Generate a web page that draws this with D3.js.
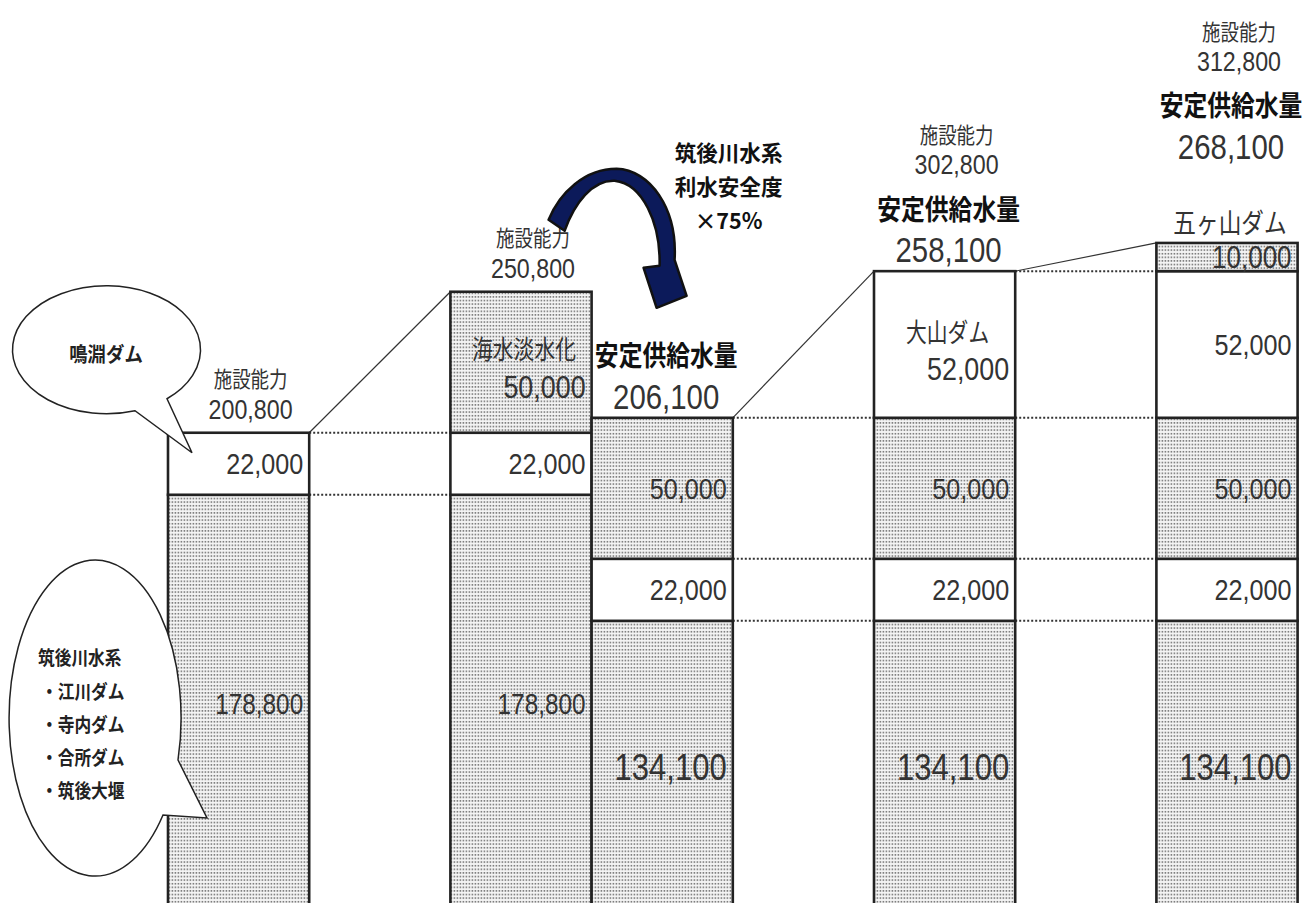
<!DOCTYPE html>
<html><head><meta charset="utf-8">
<script src="https://cdn.jsdelivr.net/npm/d3@7"></script>
<style>body{margin:0;background:#fff}svg{display:block;background:#fff}</style>
</head><body><svg id="chart" width="1303" height="903"></svg>
<script>
// ---------------- data ----------------
const stages     = ["現況", "海水淡水化", "利水安全度考慮", "大山ダム", "五ヶ山ダム"];
const seriesKeys = ["筑後川水系", "鳴淵ダム", "海水淡水化", "大山ダム", "五ヶ山ダム"];
const chikugo    = [178800, 178800, 134100, 134100, 134100];
const narufuchi  = [22000, 22000, 22000, 22000, 22000];
const desal      = [0, 50000, 50000, 50000, 50000];
const oyama      = [0, 0, 0, 52000, 52000];
const gokayama   = [0, 0, 0, 0, 10000];
const capacity   = [200800, 250800, null, 302800, 312800];
const supply     = [null, null, 206100, 258100, 268100];
const capTitle    = "施設能力";
const supplyTitle = "安定供給水量";
const bubble1Lines = ["鳴淵ダム"];
const bubble2Lines = ["筑後川水系", "・江川ダム", "・寺内ダム", "・合所ダム", "・筑後大堰"];
const noteLines    = ["筑後川水系", "利水安全度", "×75%"];

// ---------------- layout ----------------
const W = 1303, H = 903;
const LAT = "'Liberation Sans', Arial, sans-serif";
const JP  = "'Noto Sans CJK JP', 'Noto Sans CJK SC', sans-serif";
const NSX = 0.84;   // horizontal condensing of numerals
const svg = d3.select("#chart");
const defs = svg.append("defs");
const pat = defs.append("pattern").attr("id", "dots")
  .attr("patternUnits", "userSpaceOnUse").attr("width", 3).attr("height", 3.6);
pat.append("rect").attr("width", 3).attr("height", 3.6).attr("fill", "#f4f4f4");
pat.append("rect").attr("x", 0.6).attr("y", 0.9).attr("width", 1.6).attr("height", 1.6).attr("fill", "#7a7a7a");

const slot = [0, 2, 3, 5, 7];               // column slots (gaps between stages)
const x = d3.scaleLinear().domain([0, 8]).range([168, 168 + 8 * 141.2]);
const bw = x(1) - x(0);
const y = d3.scaleLinear().domain([0, 300000]).range([999, 153]);

const seriesValues = [chikugo, narufuchi, desal, oyama, gokayama];
const table = stages.map((s, i) => {
  const o = { stage: s };
  seriesKeys.forEach((k, j) => o[k] = seriesValues[j][i]);
  return o;
});
const stacked = d3.stack().keys(seriesKeys)(table);
const dottedSeries = new Set(["筑後川水系", "海水淡水化", "五ヶ山ダム"]);
const fmt = d3.format(",");

const segs = [];
stacked.forEach((layer, j) => layer.forEach((d, i) => {
  if (d[1] > d[0]) segs.push({ j, i, key: seriesKeys[j], lo: d[0], hi: d[1], v: d[1] - d[0] });
}));
const tops = stages.map((s, i) => d3.max(segs.filter(s => s.i === i), s => s.hi));
const firstStage = seriesValues.map(arr => arr.findIndex(v => v > 0));

function txt(g, px, py, s, o) {
  return g.append("text")
    .attr("transform", `translate(${px},${py}) scale(${o.sx || 1},1)`)
    .attr("text-anchor", o.anchor || "middle")
    .attr("dominant-baseline", "central")
    .attr("font-family", o.family || JP)
    .attr("font-size", o.size)
    .attr("font-weight", o.weight || 400)
    .attr("fill", o.fill || "#333")
    .text(s);
}

// connectors between separated columns
const gConn = svg.append("g");
for (let i = 0; i < stages.length - 1; i++) {
  if (slot[i + 1] - slot[i] < 2) continue;
  const xr = x(slot[i]) + bw, xl = x(slot[i + 1]);
  const bA = new Set(segs.filter(s => s.i === i).map(s => s.hi));
  const bB = new Set(segs.filter(s => s.i === i + 1).map(s => s.hi));
  bA.forEach(v => {
    if (bB.has(v)) gConn.append("line").attr("x1", xr).attr("x2", xl).attr("y1", y(v)).attr("y2", y(v))
      .attr("stroke", "#333").attr("stroke-width", 2).attr("stroke-dasharray", "2,2");
  });
  if (tops[i + 1] > tops[i]) {
    gConn.append("line").attr("x1", xr).attr("y1", y(tops[i])).attr("x2", xl).attr("y2", y(tops[i + 1]))
      .attr("stroke", "#333").attr("stroke-width", 1.2);
  }
}

// bars
const gBars = svg.append("g");
gBars.selectAll("rect").data(segs).join("rect")
  .attr("x", d => x(slot[d.i]))
  .attr("y", d => y(d.hi))
  .attr("width", bw)
  .attr("height", d => y(d.lo) - y(d.hi))
  .attr("fill", d => dottedSeries.has(d.key) ? "url(#dots)" : "#fff")
  .attr("stroke", "#222").attr("stroke-width", 2.6);

// segment labels
const gLab = svg.append("g");
const outsideName = stages.map(() => false);
segs.forEach(d => {
  const xr = x(slot[d.i]) + bw - 6;
  const xc = x(slot[d.i]) + bw / 2 + 3;
  const yt = y(d.hi), yb = Math.min(y(d.lo), H);
  const h = yb - yt;
  const named = d.j >= 2 && d.i === firstStage[d.j];
  if (d.lo === 0) {
    const cy = (yt + yb) / 2 + 5;
    txt(gLab, xr, cy, fmt(d.v), { family: LAT, size: supply[d.i] != null ? 37 : 29, anchor: "end", sx: NSX });
  } else if (named && h >= 50) {
    const cy = (yt + yb) / 2;
    txt(gLab, xc, cy - 14, d.key, { size: 26, sx: 0.8 });
    txt(gLab, xr, cy + 24, fmt(d.v), { family: LAT, size: 32, anchor: "end", sx: NSX });
  } else if (named) {
    txt(gLab, xc, yt - 22, d.key, { size: 27, sx: 0.84 });
    txt(gLab, xr, (yt + yb) / 2, fmt(d.v), { family: LAT, size: 31, anchor: "end", sx: NSX });
    outsideName[d.i] = true;
  } else {
    txt(gLab, xr, (yt + yb) / 2, fmt(d.v), { family: LAT, size: 30, anchor: "end", sx: NSX });
  }
});

// column headers
stages.forEach((s, i) => {
  const base = y(tops[i]) - (outsideName[i] ? 75 : 0);
  const xc = x(slot[i]) + bw / 2;
  if (supply[i] != null) {
    txt(gLab, xc + 4, base - 21, fmt(supply[i]), { family: LAT, size: 35, sx: 0.84 });
    txt(gLab, xc + 4, base - 64, supplyTitle, { size: 28, weight: 700, sx: 0.85, fill: "#111" });
  }
  if (capacity[i] != null) {
    const cy = supply[i] != null ? base - 107 : base - 24;
    txt(gLab, xc + 12, cy, fmt(capacity[i]), { family: LAT, size: 28, sx: 0.83 });
    txt(gLab, xc + 12, cy - 31, capTitle, { size: 22, sx: 0.84 });
  }
});

// curved arrow + note (anchored to the third column)
const ax = x(slot[2]) - 592, ay = y(tops[2]) - 420;
const gArrow = svg.append("g").attr("transform", `translate(${ax},${ay})`);
gArrow.append("path")
  .attr("d", "M549,222 C560,195 585,171 617,171 C650,172 678,210 675,262 L687,298 L657,310 L644,270 L660,268 C661,225 643,186 615,183 C593,182 575,205 565,233 Z")
  .attr("fill", "#0c1a5a").attr("stroke", "#111").attr("stroke-width", 2.5).attr("stroke-linejoin", "round");
noteLines.forEach((t, k) => {
  txt(gArrow, 729, 154 + k * 34, t, { size: 22, weight: 700, sx: 0.98, fill: "#111" });
});

// speech bubbles (drawn over the first column)
const seg0 = segs.find(s => s.i === 0 && s.key === "鳴淵ダム");
const b1dy = (y(seg0.hi) + y(seg0.lo)) / 2 - 488;
const gB1 = svg.append("g").attr("transform", `translate(${x(0) - 168},${b1dy})`);
gB1.append("path").attr("d", "M167,423 L192,477 L135,435 A94 64 0 1 1 167,423 Z")
  .attr("fill", "#fff").attr("stroke", "#222").attr("stroke-width", 1.5);
bubble1Lines.forEach((t, k) => txt(gB1, 106, 378 + k * 30, t, { size: 20, weight: 700, sx: 0.92, fill: "#222" }));

const gB2 = svg.append("g").attr("transform", `translate(${x(0) - 168},0)`);
gB2.append("path").attr("d", "M178,760 L207,818 L163,815 A86 158 0 1 1 178,760 Z")
  .attr("fill", "#fff").attr("stroke", "#222").attr("stroke-width", 1.5);
bubble2Lines.forEach((t, k) => txt(gB2, k === 0 ? 38 : 41, 657 + k * 33.2, t,
  { size: 19, weight: 700, sx: 0.88, anchor: "start", fill: "#222" }));
</script>
</body></html>
